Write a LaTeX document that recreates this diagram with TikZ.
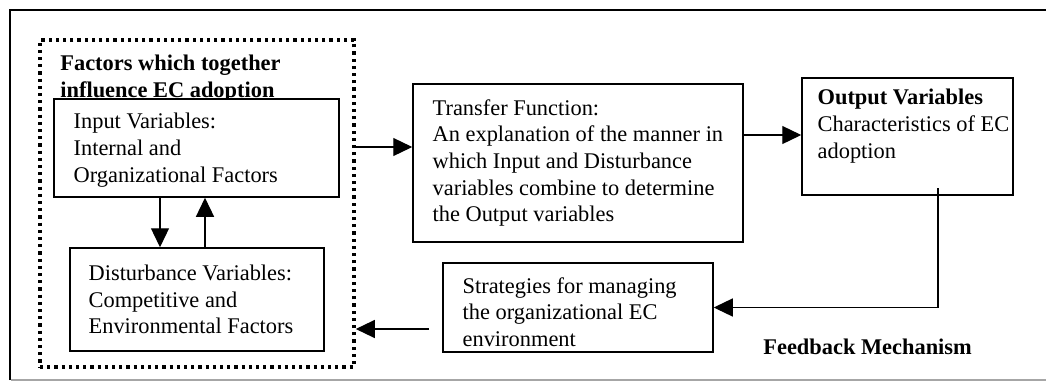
\documentclass[tikz,border=0pt]{standalone}
\usepackage{fontspec}
\setmainfont{Liberation Serif}
\usetikzlibrary{arrows.meta}
\tikzset{
  box/.style={draw, line width=0.75pt, fill=white, inner sep=0pt},
  txt/.style={inner sep=0pt, align=left, anchor=west, font=\fontsize{11.2}{13.35}\selectfont},
  btxt/.style={txt, font=\fontsize{11.2}{13.35}\selectfont\bfseries},
  arr/.style={line width=0.65pt, -{Triangle[length=9.5pt,width=9pt]}},
  grpbox/.style={draw, line width=1.8pt, dash pattern=on 1.6pt off 2.0pt, inner sep=0pt}
}
\begin{document}
\begin{tikzpicture}[x=0.5pt,y=-0.5pt]
\useasboundingbox (0,0) rectangle (1046,381);
% outer frame
\draw[line width=1pt] (10,380) -- (10,10) -- (1046,10);
\draw[line width=0.6pt, gray!70] (10.5,380) -- (1046,380);
% dotted group box
\node[grpbox, minimum width=157pt, minimum height=163.5pt] (grp) at (197,203.5) {};
\node[btxt] (title) at (60,78.5) {Factors which together\\influence EC adoption};
% boxes
\node[box, minimum width=142.5pt, minimum height=49pt] (inp) at (196.5,148) {};
\node[txt, xshift=10pt, yshift=-1pt] (inptxt) at (inp.west) {Input Variables:\\Internal and\\Organizational Factors};
\node[box, minimum width=127pt, minimum height=51.5pt] (dist) at (197,299.5) {};
\node[txt, xshift=9.5pt] (disttxt) at (dist.west) {Disturbance Variables:\\Competitive and\\Environmental Factors};
\node[box, minimum width=165pt, minimum height=79pt] (tf) at (578,163) {};
\node[txt, xshift=10pt] (tftxt) at (tf.west) {Transfer Function:\\An explanation of the manner in\\which Input and Disturbance\\variables combine to determine\\the Output variables};
\node[box, minimum width=105.5pt, minimum height=58.5pt] (out) at (907.5,136.5) {};
\node[txt, xshift=8pt, yshift=5.25pt] (outtxt) at (out.west) {\textbf{Output Variables}\\Characteristics of EC\\adoption};
\node[box, minimum width=135pt, minimum height=44.5pt] (strat) at (578,307.5) {};
\node[txt, xshift=10pt, yshift=-2.25pt] (strattxt) at (strat.west) {Strategies for managing\\the organizational EC\\environment};
\node[btxt] (fbm) at (763,347) {Feedback Mechanism};
% connectors
\coordinate (c1) at (160,0);
\coordinate (c2) at (205,0);
\coordinate (a1) at (0,147);
\coordinate (a2) at (0,135);
\coordinate (fb0) at (938,188);
\coordinate (s0) at (429,329);
\draw[arr] (inp.south -| c1) -- (dist.north -| c1);
\draw[arr] (dist.north -| c2) -- (inp.south -| c2);
\draw[arr] (grp.east |- a1) -- (tf.west |- a1);
\draw[arr] (tf.east |- a2) -- (out.west |- a2);
\draw[arr] (fb0) |- (strat.east);
\draw[arr] (s0) -- (grp.east |- s0);
\end{tikzpicture}
\end{document}
